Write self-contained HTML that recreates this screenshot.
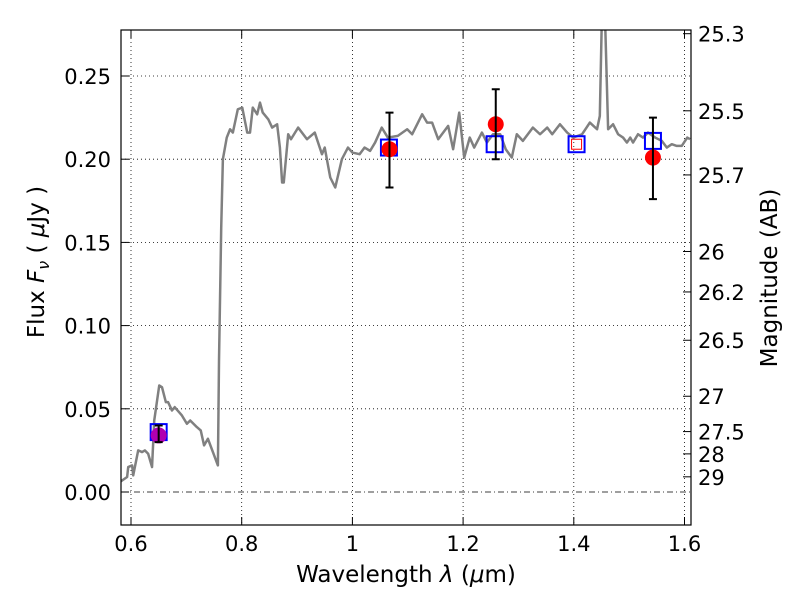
<!DOCTYPE html>
<html><head><meta charset="utf-8"><style>
body{margin:0;background:#fff}
svg text{font-family:"DejaVu Sans","Liberation Sans",sans-serif;fill:#000}
</style></head><body>
<svg id="chart" width="800" height="600" viewBox="0 0 800 600" xmlns="http://www.w3.org/2000/svg">
<rect width="800" height="600" fill="#fff"/>
<defs><clipPath id="pc"><rect x="121" y="30" width="570" height="495"/></clipPath></defs>
<g id="grid"></g>
<g id="marks" clip-path="url(#pc)"></g>
<rect x="121" y="30" width="570" height="495" fill="none" stroke="#000" stroke-width="1.2"/>
<g id="axes"></g>
<text x="406" y="582" font-size="23" text-anchor="middle">Wavelength  <tspan font-style="italic">λ</tspan> (<tspan font-style="italic">μ</tspan>m)</text>
<text transform="translate(44,262) rotate(-90)" font-size="23" text-anchor="middle">Flux  <tspan font-style="italic">F</tspan><tspan font-style="italic" font-size="16" dy="5">ν</tspan><tspan dy="-5">  ( </tspan><tspan font-style="italic">μ</tspan>Jy )</text>
<text transform="translate(777,278) rotate(-90)" font-size="23" text-anchor="middle">Magnitude (AB)</text>
</svg>
<script>
const specLam=[0.580,0.593,0.595,0.602,0.604,0.613,0.620,0.625,0.631,0.638,0.642,0.651,0.656,0.663,0.667,0.674,0.679,0.692,0.701,0.707,0.719,0.726,0.732,0.739,0.748,0.757,0.759,0.763,0.766,0.773,0.779,0.784,0.793,0.801,0.810,0.815,0.820,0.828,0.833,0.838,0.848,0.855,0.864,0.869,0.873,0.876,0.884,0.889,0.902,0.918,0.932,0.945,0.950,0.960,0.969,0.981,0.992,1.000,1.013,1.022,1.032,1.041,1.053,1.064,1.082,1.099,1.108,1.126,1.135,1.144,1.155,1.173,1.182,1.193,1.202,1.212,1.220,1.234,1.243,1.254,1.267,1.277,1.288,1.297,1.308,1.326,1.339,1.352,1.361,1.375,1.388,1.399,1.415,1.429,1.442,1.447,1.451,1.453,1.456,1.462,1.471,1.480,1.489,1.496,1.502,1.507,1.516,1.525,1.534,1.547,1.559,1.568,1.577,1.586,1.595,1.605,1.610];
const specFlux=[0.006,0.009,0.015,0.016,0.010,0.025,0.024,0.025,0.023,0.015,0.043,0.064,0.063,0.054,0.054,0.049,0.051,0.046,0.041,0.043,0.039,0.037,0.028,0.032,0.024,0.016,0.079,0.159,0.200,0.213,0.218,0.216,0.230,0.231,0.216,0.216,0.231,0.227,0.234,0.228,0.224,0.219,0.221,0.207,0.186,0.186,0.215,0.212,0.219,0.212,0.216,0.203,0.207,0.189,0.183,0.200,0.207,0.204,0.203,0.207,0.205,0.210,0.219,0.213,0.214,0.218,0.215,0.227,0.222,0.222,0.212,0.220,0.206,0.228,0.201,0.213,0.207,0.216,0.210,0.215,0.215,0.206,0.201,0.215,0.211,0.219,0.215,0.219,0.215,0.221,0.216,0.213,0.215,0.222,0.218,0.226,0.290,0.310,0.290,0.218,0.221,0.215,0.213,0.210,0.213,0.210,0.215,0.213,0.216,0.213,0.211,0.207,0.209,0.208,0.208,0.213,0.212];
const photLam=[0.650,1.067,1.259,1.543];
const photFlux=[0.034,0.206,0.221,0.201];
const photErrLo=[0.030,0.183,0.200,0.176];
const photErrHi=[0.040,0.228,0.242,0.225];
const photColor=['#b000b0','red','red','red'];
const modelLam=[0.650,1.066,1.257,1.405,1.543];
const modelFlux=[0.036,0.207,0.209,0.209,0.211];
const xTicks=[0.6,0.8,1.0,1.2,1.4,1.6];
const xTickLabels=['0.6','0.8','1','1.2','1.4','1.6'];
const yTicks=[0,0.05,0.10,0.15,0.20,0.25];
const yTickLabels=['0.00','0.05','0.10','0.15','0.20','0.25'];
const magTicks=[25.3,25.5,25.7,26,26.2,26.5,27,27.5,28,29];

const NS='http://www.w3.org/2000/svg';
const X=v=>131+(v-0.6)*553.5;
const Y=v=>492-v*1664;
const M=m=>Y(Math.pow(10,(23.9-m)/2.5));
function mk(tag,attrs,parent){const e=document.createElementNS(NS,tag);for(const k in attrs)e.setAttribute(k,attrs[k]);parent.appendChild(e);return e;}
const grid=document.getElementById('grid'),marks=document.getElementById('marks'),axes=document.getElementById('axes');
xTicks.forEach((t,i)=>{
  const g=mk('line',{x1:X(t),x2:X(t),y1:30,y2:525,stroke:'#000','stroke-width':0.8,'stroke-dasharray':'1,3'},grid);
  
  
  const a=mk('line',{x1:X(t),x2:X(t),y1:525,y2:517,stroke:'#000'},axes);
  
  
  const b=mk('line',{x1:X(t),x2:X(t),y1:30,y2:38,stroke:'#000'},axes);
  
  
  const tx=mk('text',{x:X(t),y:551,'font-size':21,'text-anchor':'middle'},axes);
  tx.textContent=xTickLabels[i];
  
  
});
yTicks.forEach((t,i)=>{
  const g=mk('line',{x1:121,x2:691,y1:Y(t),y2:Y(t),stroke:'#000','stroke-width':0.8,'stroke-dasharray':t===0?'6,3,1,3':'1,3'},grid);
  
  
  const a=mk('line',{x1:121,x2:129,y1:Y(t),y2:Y(t),stroke:'#000'},axes);
  
  
  const tx=mk('text',{x:111,y:Y(t)+8,'font-size':21,'text-anchor':'end'},axes);
  tx.textContent=yTickLabels[i];
  
  
});
magTicks.forEach(m=>{
  const a=mk('line',{x1:683,x2:691,y1:M(m),y2:M(m),stroke:'#000'},axes);
  
  
  const tx=mk('text',{x:698,y:M(m)+8,'font-size':21},axes);
  tx.textContent=String(m);
  
  
});
const sp=mk('polyline',{points:specLam.map((l,i)=>X(l)+','+Y(specFlux[i])).join(' '),fill:'none',stroke:'#808080','stroke-width':2.5,'stroke-linejoin':'round'},marks);


modelLam.forEach((l,i)=>{
  const r=mk('rect',{x:X(l)-8,y:Y(modelFlux[i])-8,width:16,height:16,fill:'none',stroke:'blue','stroke-width':2},marks);
  
  
});
const rs=mk('rect',{x:X(1.405)-5,y:Y(0.209)-5,width:10,height:10,fill:'none',stroke:'red','stroke-width':1},marks);


photLam.forEach((l,i)=>{
  const c=mk('circle',{cx:X(l),cy:Y(photFlux[i]),r:8,fill:photColor[i]},marks);
  
  
  const e=mk('path',{d:`M${X(l)},${Y(photErrLo[i])}V${Y(photErrHi[i])}M${X(l)-4},${Y(photErrLo[i])}h8M${X(l)-4},${Y(photErrHi[i])}h8`,stroke:'#000','stroke-width':2,fill:'none'},marks);
  
  
});
</script>
</body></html>
